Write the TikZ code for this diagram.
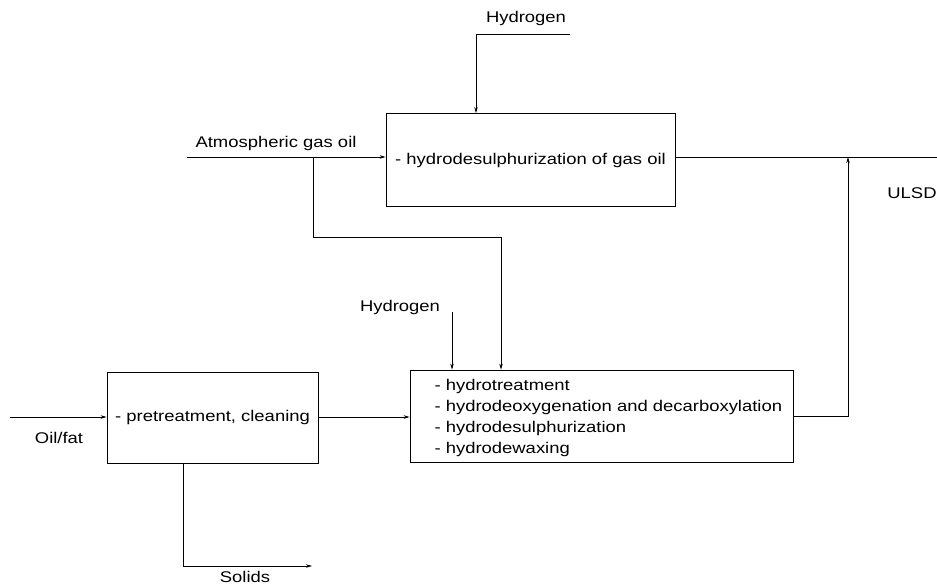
\documentclass[tikz,border=0pt]{standalone}
\usepackage{fontspec}
\setmainfont{Liberation Sans}[FakeStretch=1.19]
\usepackage{tikz}
\usetikzlibrary{arrows.meta, positioning, calc}
\tikzstyle{arrow} = [line width=0.8pt,->,>={Stealth[length=6pt,width=3.5pt]}]
\tikzstyle{unit} = [draw, line width=0.8pt, inner sep=0pt]

\begin{document}
\begin{tikzpicture}[x=1pt, y=-1pt, every node/.style={font=\fontsize{15.5}{21}\selectfont}]
  % frame of the page
  \useasboundingbox (0,0) rectangle (937,585);

  % Units
  \node[unit, minimum width=289pt, minimum height=93pt] (hds) at (530.5,160) {- hydrodesulphurization of gas oil};
  \node[unit, minimum width=211pt, minimum height=91pt] (pre) at (212.5,417.5) {- pretreatment, cleaning};
  \node[unit, minimum width=383pt, minimum height=92pt] (hdt) at (601.5,416) {};
  \node[align=left, anchor=west] (hdtlist) at (431,418) {- hydrotreatment\\- hydrodeoxygenation and decarboxylation\\- hydrodesulphurization\\- hydrodewaxing};

  % Stream labels
  \node (htop) at (526,18) {Hydrogen};
  \node (ago) at (276,143) {Atmospheric gas oil};
  \node (ulsd) at (912,193) {ULSD};
  \node (hmid) at (400,307) {Hydrogen};
  \node (oil) at (59,438) {Oil/fat};
  \node (solids) at (245,577) {Solids};

  % Free ends and bends
  \coordinate (htopin) at (570,34);
  \coordinate (htopbend) at (476,34);
  \coordinate (agoin) at (187,157);
  \coordinate (split) at (313,157);
  \coordinate (splitbend) at (501,237);
  \coordinate (hmidin) at (452,312);
  \coordinate (oilin) at (10,417);
  \coordinate (solbend) at (183,566);
  \coordinate (solout) at (312,566);
  \coordinate (ulsdout) at (937,157);
  \coordinate (join) at (848,157);

  % Streams
  \draw[arrow] (htopin) -- (htopbend) -- (htopbend |- hds.north);
  \draw[arrow] (agoin) -- (agoin -| hds.west);
  \draw[arrow] (split) |- (splitbend) -- (splitbend |- hdt.north);
  \draw[arrow] (hmidin) -- (hmidin |- hdt.north);
  \draw[arrow] (oilin) -- (oilin -| pre.west);
  \draw[arrow] (oilin -| pre.east) -- (oilin -| hdt.west);
  \draw[arrow] (solbend |- pre.south) -- (solbend) -- (solout);
  \draw[line width=0.8pt] (agoin -| hds.east) -- (ulsdout);
  \draw[arrow] (hdt.east) -| (join);
\end{tikzpicture}
\end{document}
